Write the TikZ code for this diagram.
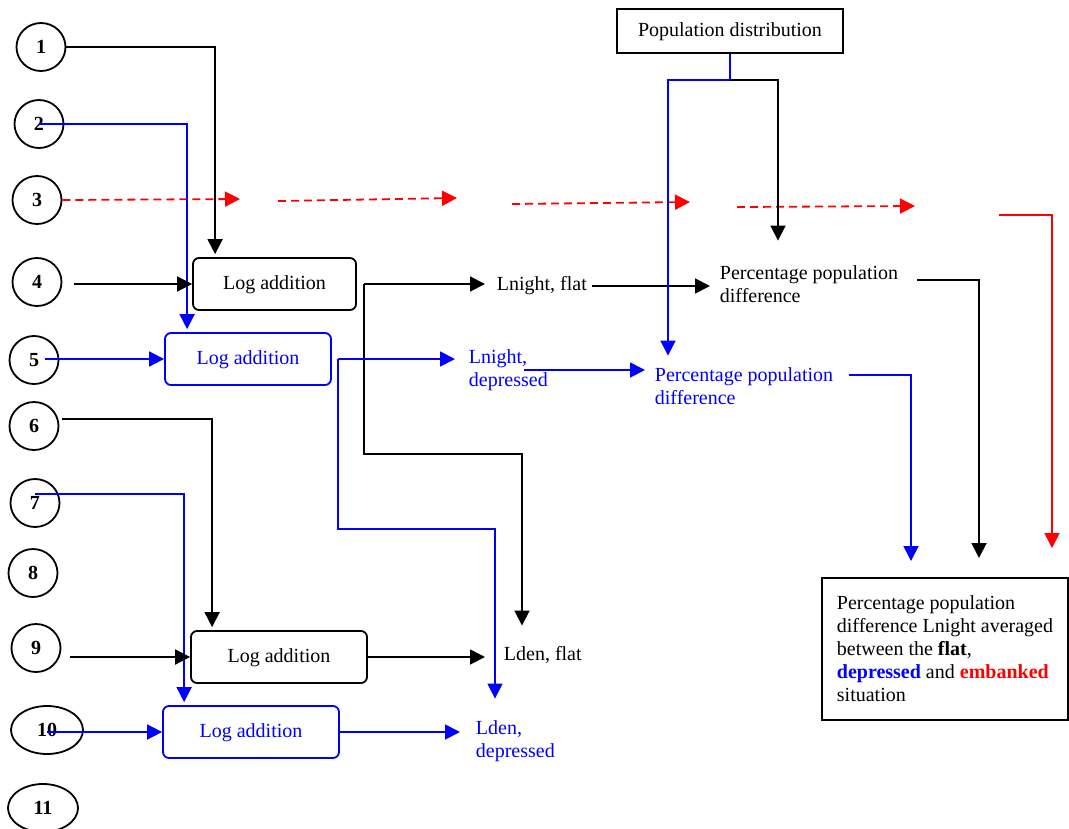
\documentclass[tikz,border=0pt]{standalone}
\usepackage{fontspec}
\setmainfont{Liberation Serif}
\usetikzlibrary{arrows.meta, shapes.geometric}

\begin{document}
\begin{tikzpicture}[x=1pt, y=-1pt, line width=1.8pt, >={Triangle[length=15pt,width=15pt]},
	font=\fontsize{20}{23}\selectfont]
	\tikzstyle{num}=[draw, ellipse, minimum width=49pt, minimum height=48pt, inner sep=0pt, font=\fontsize{20}{23}\selectfont\bfseries]
	\tikzstyle{logbox}=[draw, rounded corners=6pt, minimum height=52pt, inner sep=0pt, text depth=2pt]
	\tikzstyle{lbl}=[anchor=west, inner sep=0pt, align=left]
	\tikzstyle{blk}=[->, black]
	\tikzstyle{blu}=[->, blue]
	\tikzstyle{redd}=[->, red, dash pattern=on 8pt off 5pt]

	\useasboundingbox (0,0) rectangle (1069,828);

	% inputs
	\node[num] (c1) at (41,47) {1};
	\node[num] (c2) at (39,124) {2};
	\node[num] (c3) at (37,200) {3};
	\node[num] (c4) at (37,282) {4};
	\node[num] (c5) at (34,360) {5};
	\node[num] (c6) at (34,426) {6};
	\node[num] (c7) at (35,503) {7};
	\node[num] (c8) at (33,573) {8};
	\node[num] (c9) at (36,648) {9};
	\node[num, minimum width=72pt] (c10) at (47,730) {10};
	\node[num, minimum width=70pt] (c11) at (43,808) {11};

	\node[logbox, minimum width=163pt] (la1) at (274.5,284) {Log addition};
	\node[logbox, blue, minimum width=166pt] (la2) at (248,359) {Log addition};
	\node[logbox, minimum width=176pt] (la3) at (279,657) {Log addition};
	\node[logbox, blue, minimum width=176pt] (la4) at (251,732) {Log addition};

	\node[draw, minimum width=226pt, minimum height=44pt, inner sep=0pt, text depth=2pt] (pd) at (730,31) {Population distribution};

	\node[lbl] (nf) at (496,286) {Lnight, flat};
	\node[lbl, blue] (nd) at (468,370) {Lnight,\\depressed};
	\node[lbl] (pb) at (719,284) {Percentage population\\difference};
	\node[lbl, blue] (pbl) at (654,386) {Percentage population\\difference};
	\node[lbl] (lf) at (503,655) {Lden, flat};
	\node[lbl, blue] (ld) at (475,741) {Lden,\\depressed};

	\node[draw, line width=2pt, anchor=north west, minimum width=246pt, minimum height=142pt,
		align=left] (fb) at (821,577)
		{Percentage population\\difference Lnight averaged\\between the \textbf{flat},\\
		\textcolor{blue}{\textbf{depressed}} and \textcolor{red}{\textbf{embanked}}\\situation};

	% embanked (red) chain
	\coordinate (r1) at (240,199);
	\coordinate (r2a) at (278,201);
	\coordinate (r2) at (457,198);
	\coordinate (r3a) at (512,204);
	\coordinate (r3) at (690,202);
	\coordinate (r4a) at (737,207);
	\coordinate (r4) at (915,206);
	\coordinate (r5a) at (999,215);

	\draw[redd] (c3.east) -- (r1);
	\draw[redd] (r2a) -- (r2);
	\draw[redd] (r3a) -- (r3);
	\draw[redd] (r4a) -- (r4);
	\draw[->, red] (r5a) -| ([xshift=231pt,yshift=29pt]fb.north west);

	% into the log additions
	\draw[blk] (c1.east) -| ([xshift=23pt,yshift=3pt]la1.north west);
	\draw[blu] (c2.center) -| ([xshift=23pt,yshift=3pt]la2.north west);
	\draw[blk, shorten <=12pt] (la1.west -| c4.east) -- (la1.west);
	\draw[blu, shorten <=11pt] (la2.west -| c5.center) -- (la2.west);
	\draw[blk] ([xshift=3pt,yshift=7pt]c6.east) -| ([xshift=22pt,yshift=3pt]la3.north west);
	\draw[blu] ([yshift=9pt]c7.center) -| ([xshift=22pt,yshift=3pt]la4.north west);
	\draw[blk, shorten <=9pt] (la3.west -| c9.east) -- (la3.west);
	\draw[blu] (la4.west -| c10.center) -- (la4.west);

	% out of the log additions
	\coordinate (j1) at ([xshift=7pt]la1.east);
	\coordinate (j2) at ([xshift=6pt]la2.east);
	\draw[blk, shorten >=11pt] (j1) -- (j1 -| nf.west);
	\draw[blk] (j1) -- ++(0,170) -| ([xshift=19pt,yshift=20pt]lf.north west);
	\draw[blu, shorten >=13pt] (j2) -- (j2 -| nd.west);
	\draw[blu] (j2) -- ++(0,170) -| ([xshift=20pt,yshift=21pt]ld.north west);
	\draw[blk, shorten >=18pt] (la3.east) -- (la3.east -| lf.west);
	\draw[blu, shorten >=15pt] (la4.east) -- (la4.east -| ld.west);

	% percentage difference
	\draw[blk, shorten <=4pt, shorten >=9pt] (nf.east) -- (nf.east -| pb.west);
	\draw[blu, shorten >=9pt] ([xshift=56pt]nd.west) -- (nd.west -| pbl.west);
	\coordinate (pj) at ([yshift=-26pt]pd.south);
	\draw[blk] (pj) -| ([xshift=59pt,yshift=24pt]pb.north west);
	\draw[blu] (pj) -| ([xshift=14pt,yshift=11pt]pbl.north west);
	\draw[blue, line width=2.8pt] (pd.south) -- (pj);

	\draw[blk] ([xshift=18pt,yshift=4pt]pb.east) -| ([xshift=158pt,yshift=19pt]fb.north west);
	\draw[blu] ([xshift=15pt,yshift=11pt]pbl.east) -| ([xshift=90pt,yshift=16pt]fb.north west);
\end{tikzpicture}
\end{document}
